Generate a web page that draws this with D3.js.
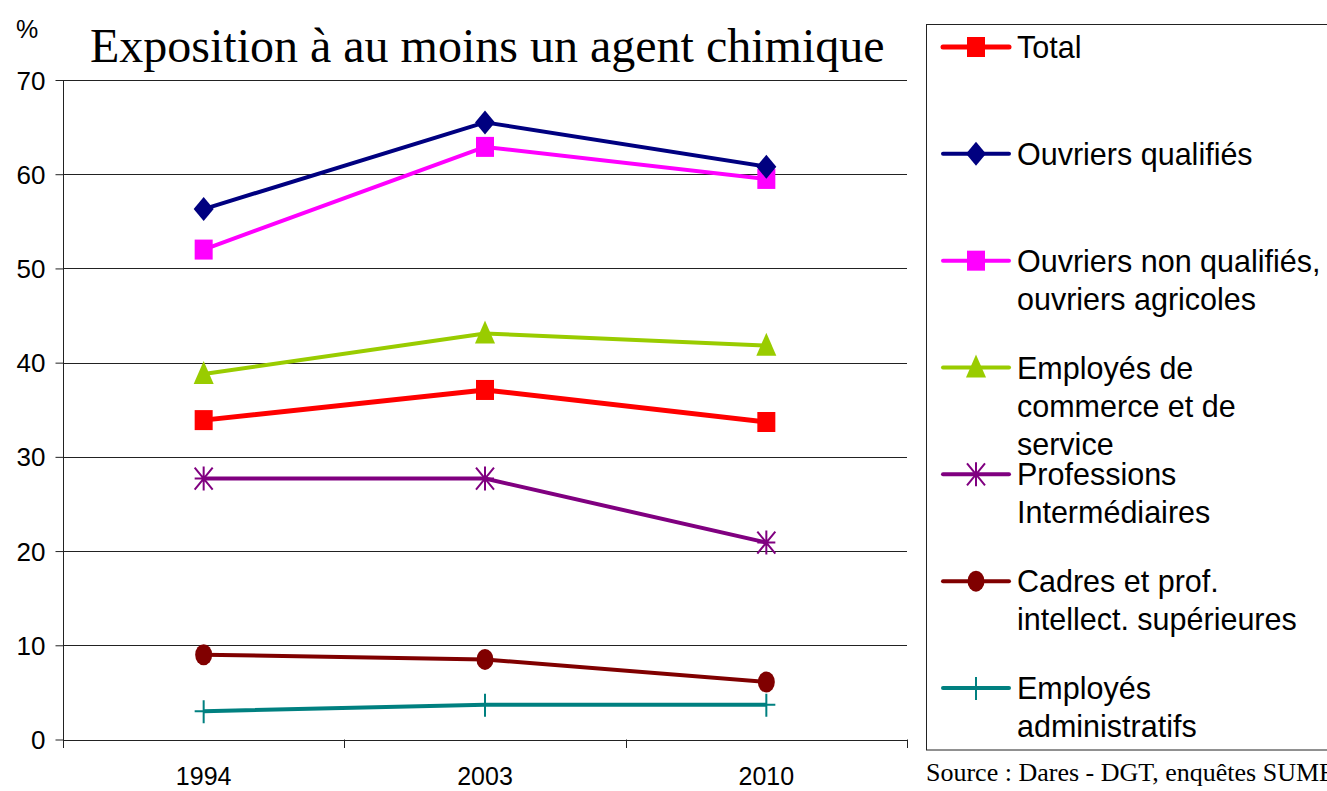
<!DOCTYPE html>
<html><head><meta charset="utf-8">
<script src="https://cdn.jsdelivr.net/npm/d3@7"></script>
<style>body{margin:0;background:#fff}svg{display:block}</style>
</head><body>
<svg id="c" width="1327" height="791"></svg>
<script>
const years = ["1994", "2003", "2010"];
const yTicks = [0, 10, 20, 30, 40, 50, 60, 70];
const seriesNames = ["Total", "Ouvriers qualifiés", "Ouvriers non qualifiés, ouvriers agricoles", "Employés de commerce et de service", "Professions Intermédiaires", "Cadres et prof. intellect. supérieures", "Employés administratifs"];
const legendLines = [["Total"], ["Ouvriers qualifiés"], ["Ouvriers non qualifiés,", "ouvriers agricoles"], ["Employés de", "commerce et de", "service"], ["Professions", "Intermédiaires"], ["Cadres et prof.", "intellect. supérieures"], ["Employés", "administratifs"]];
const total = [33.9, 37.1, 33.7];
const ouvQual = [56.3, 65.5, 60.8];
const ouvNonQual = [52.0, 62.9, 59.5];
const empCommerce = [38.8, 43.1, 41.8];
const profInter = [27.7, 27.7, 20.9];
const cadres = [9.0, 8.5, 6.1];
const empAdmin = [3.0, 3.7, 3.7];
const seriesValues = [total, ouvQual, ouvNonQual, empCommerce, profInter, cadres, empAdmin];
const colors = ["#FF0000", "#000080", "#FF00FF", "#99CC00", "#800080", "#800000", "#008080"];
const markers = ["square", "diamond", "square", "triangle", "asterisk", "circle", "plus"];
const widths = [5, 4, 4, 4, 4, 4, 4];

const svg = d3.select("#c");
const x = d3.scaleBand().domain(years).range([63, 907]).padding(0);
const y = d3.scaleLinear().domain([0, 70]).range([739.5, 80]);
const cx = d => x(d) + x.bandwidth() / 2;

// gridlines
svg.append("g").selectAll("line").data(yTicks.filter(t => t > 0)).join("line")
  .attr("x1", 63).attr("x2", 907).attr("y1", d => Math.round(y(d)) + 0.5).attr("y2", d => Math.round(y(d)) + 0.5)
  .attr("stroke", "#222").attr("stroke-width", 1);

// y axis
const ya = svg.append("g").attr("transform", "translate(63.5,0)")
  .call(d3.axisLeft(y).tickValues(yTicks).tickSize(8).tickPadding(10).tickFormat(d3.format("d")));
ya.select(".domain").attr("d", `M0,${y(70)}V748`).attr("stroke", "#222");
ya.selectAll(".tick line").attr("stroke", "#222");
ya.selectAll(".tick text").attr("font-family", "Liberation Sans, Arial, sans-serif").attr("font-size", 26).attr("fill", "#000").attr("dy", "0.35em");

// x axis
svg.append("line").attr("x1", 63).attr("x2", 907).attr("y1", Math.round(y(0)) + 0.5).attr("y2", Math.round(y(0)) + 0.5).attr("stroke", "#222");
const bounds = years.map(d => x(d)).concat([x(years[years.length - 1]) + x.bandwidth()]);
svg.append("g").selectAll("line").data(bounds).join("line")
  .attr("x1", d => Math.round(d) + 0.5).attr("x2", d => Math.round(d) + 0.5).attr("y1", y(0)).attr("y2", 748).attr("stroke", "#222");
svg.append("g").selectAll("text").data(years).join("text")
  .attr("x", cx).attr("y", 785).attr("text-anchor", "middle")
  .attr("font-family", "Liberation Sans, Arial, sans-serif").attr("font-size", 25).text(d => d);

// marker drawing
function drawMarker(g, type, color, mx, my) {
  if (type === "square") {
    g.append("rect").attr("x", mx - 9).attr("y", my - 10).attr("width", 18).attr("height", 20).attr("fill", color);
  } else if (type === "diamond") {
    g.append("path").attr("d", `M${mx},${my - 12}L${mx + 10},${my}L${mx},${my + 12}L${mx - 10},${my}Z`).attr("fill", color);
  } else if (type === "triangle") {
    g.append("path").attr("d", `M${mx},${my - 13}L${mx + 10},${my + 10}L${mx - 10},${my + 10}Z`).attr("fill", color);
  } else if (type === "circle") {
    g.append("ellipse").attr("cx", mx).attr("cy", my).attr("rx", 8.5).attr("ry", 10.5).attr("fill", color);
  } else if (type === "asterisk") {
    g.append("path").attr("d", `M${mx},${my - 12}V${my + 12}M${mx - 9},${my - 11}L${mx + 9},${my + 11}M${mx + 9},${my - 11}L${mx - 9},${my + 11}M${mx - 9},${my}H${mx + 9}`)
      .attr("stroke", color).attr("stroke-width", 2).attr("fill", "none");
  } else if (type === "plus") {
    g.append("path").attr("d", `M${mx},${my - 11}V${my + 12}M${mx - 9},${my}H${mx + 9}`)
      .attr("stroke", color).attr("stroke-width", 2).attr("fill", "none");
  }
}

// series
const order = [6, 5, 4, 3, 2, 1, 0];
const line = d3.line().x((d, i) => cx(years[i])).y(d => y(d));
order.forEach(s => {
  const g = svg.append("g");
  g.append("path").datum(seriesValues[s]).attr("d", line).attr("fill", "none")
    .attr("stroke", colors[s]).attr("stroke-width", widths[s]).attr("stroke-linejoin", "round");
  seriesValues[s].forEach((v, i) => drawMarker(g, markers[s], colors[s], cx(years[i]), y(v)));
});

// title
svg.append("text").attr("x", 90).attr("y", 62).attr("font-family", "Liberation Serif, Times New Roman, serif")
  .attr("font-size", 48).text("Exposition à au moins un agent chimique");
svg.append("text").attr("x", 16).attr("y", 38).attr("font-family", "Liberation Sans, Arial, sans-serif")
  .attr("font-size", 25).text("%");

// legend
svg.append("rect").attr("x", 926.5).attr("y", 24.5).attr("width", 500).attr("height", 725.5).attr("fill", "none").attr("stroke", "#222");
const ly = d3.scaleLinear().domain([0, 6]).range([47, 688]);
seriesNames.forEach((n, s) => {
  const g = svg.append("g");
  const yy = ly(s);
  g.append("line").attr("x1", 943).attr("x2", 1009).attr("y1", yy).attr("y2", yy).attr("stroke", colors[s]).attr("stroke-width", widths[s]).attr("stroke-linecap", "round");
  drawMarker(g, markers[s], colors[s], 976, yy);
  g.append("text").attr("x", 1017).attr("y", yy + 11).attr("font-family", "Liberation Sans, Arial, sans-serif").attr("font-size", 30.5)
    .selectAll("tspan").data(legendLines[s]).join("tspan").attr("x", 1017).attr("dy", (d, i) => i === 0 ? 0 : 38).text(d => d);
});

svg.append("text").attr("x", 926).attr("y", 781).attr("font-family", "Liberation Serif, Times New Roman, serif")
  .attr("font-size", 26).text("Source : Dares - DGT, enquêtes SUMER");
</script>
</body></html>
